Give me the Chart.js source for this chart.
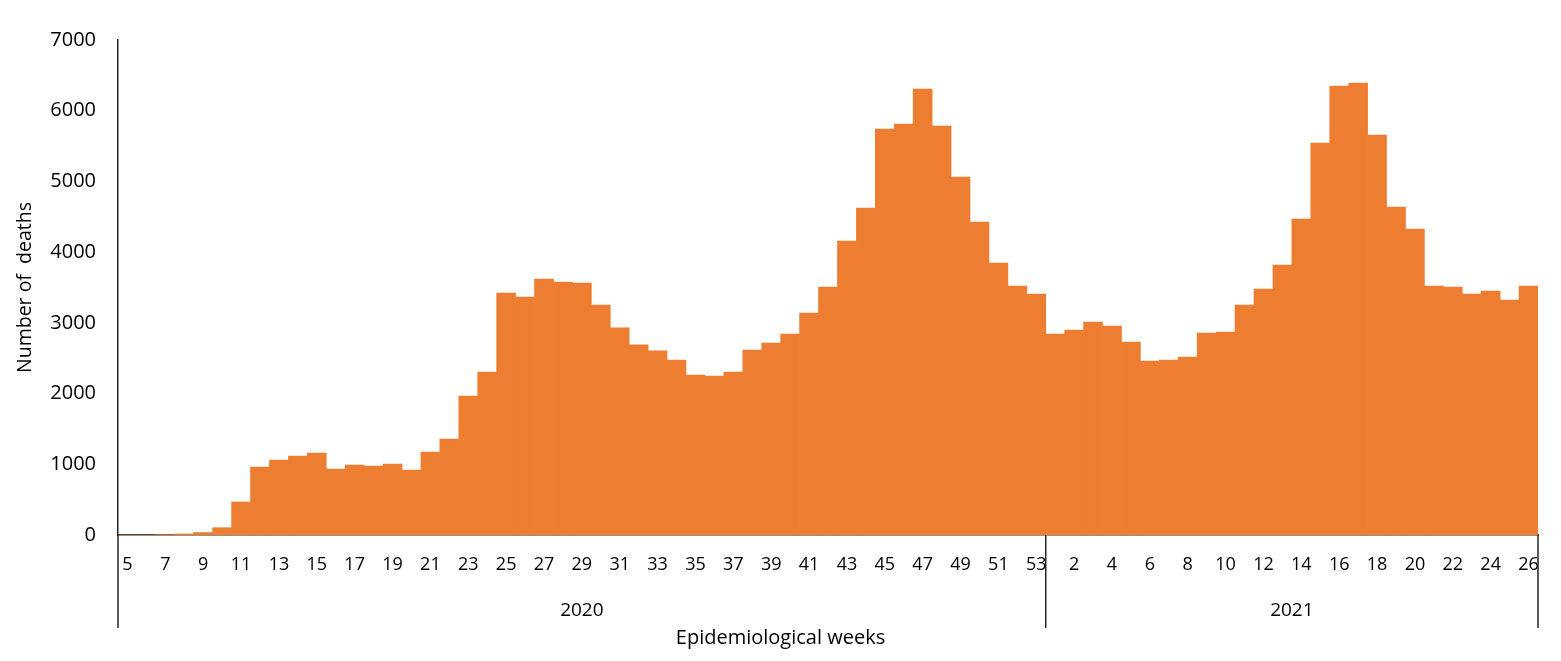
<!DOCTYPE html>
<html>
<head>
<meta charset="utf-8">
<script src="https://cdn.jsdelivr.net/npm/chart.js@4"></script>
<style>
  body { margin: 0; background: #fff; }
  canvas { display: block; }
</style>
</head>
<body>
<canvas id="deathsChart" width="1561" height="661"></canvas>
<script>
// weeks shown on the axis (2020: 5..53, 2021: 1..26)
const weeks2020 = [5, 6, 7, 8, 9, 10, 11, 12, 13, 14, 15, 16, 17, 18, 19, 20, 21, 22, 23, 24,
  25, 26, 27, 28, 29, 30, 31, 32, 33, 34, 35, 36, 37, 38, 39, 40, 41, 42, 43, 44,
  45, 46, 47, 48, 49, 50, 51, 52, 53];
const weeks2021 = [1, 2, 3, 4, 5, 6, 7, 8, 9, 10, 11, 12, 13, 14, 15, 16, 17, 18, 19, 20,
  21, 22, 23, 24, 25, 26];

// deaths per week
const deaths2020 = [0, 0, 5, 15, 35, 103, 467, 962, 1061, 1117, 1160, 933, 990, 976, 1004, 919,
  1174, 1358, 1966, 2305, 3422, 3366, 3620, 3578, 3564, 3253, 2928, 2688, 2603, 2475,
  2263, 2249, 2305, 2616, 2715, 2843, 3140, 3507, 4158, 4624, 5741, 5812, 6307, 5784,
  5063, 4426, 3846, 3521, 3408];
const deaths2021 = [2842, 2899, 3012, 2956, 2729, 2461, 2475, 2517, 2857, 2871, 3253, 3479,
  3818, 4469, 5543, 6349, 6392, 5657, 4638, 4327, 3521, 3507, 3408, 3450, 3323, 3521];

const years = ['2020', '2021'];
const yTicks = [0, 1000, 2000, 3000, 4000, 5000, 6000, 7000];

const labels = weeks2020.concat(weeks2021);
const values = deaths2020.concat(deaths2021);
const axisColor = '#262626';

// draws the year row under the week labels and the x title
const yearGroups = {
  id: 'yearGroups',
  afterDraw(chart) {
    const ctx = chart.ctx;
    const x = chart.scales.x;
    const top = x.top;
    const bottom = 628;
    const split = (x.getPixelForValue(weeks2020.length - 1) + x.getPixelForValue(weeks2020.length)) / 2;
    const edges = [x.left, split, x.right];

    ctx.save();
    ctx.strokeStyle = axisColor;
    ctx.lineWidth = 1.5;
    edges.forEach(px => {
      ctx.beginPath();
      ctx.moveTo(px, top);
      ctx.lineTo(px, bottom);
      ctx.stroke();
    });
    ctx.fillStyle = '#000';
    ctx.font = '19px "Open Sans"';
    ctx.textAlign = 'center';
    ctx.textBaseline = 'middle';
    ctx.fillText(years[0], (edges[0] + edges[1]) / 2, 611);
    ctx.fillText(years[1], (edges[1] + edges[2]) / 2, 611);

    // excel centres this one on the whole picture, not the plot
    ctx.font = '20px "Open Sans"';
    ctx.fillText('Epidemiological weeks', chart.width / 2, 638);
    ctx.restore();
  }
};

new Chart(document.getElementById('deathsChart'), {
  type: 'bar',
  data: {
    labels: labels,
    datasets: [{
      label: 'Number of deaths',
      data: values,
      backgroundColor: '#ED7D31',
      borderWidth: 0,
      categoryPercentage: 1.0,
      barPercentage: 1.0
    }]
  },
  options: {
    responsive: false,
    animation: false,
    layout: { padding: { top: 40, right: 23, left: 0, bottom: 0 } },
    plugins: {
      legend: { display: false },
      tooltip: { enabled: false }
    },
    scales: {
      x: {
        grid: { display: false, drawTicks: false },
        border: { display: true, color: axisColor, width: 1.5 },
        ticks: {
          autoSkip: false,
          maxRotation: 0,
          padding: 19,
          color: '#000',
          font: { family: 'Open Sans', size: 18 },
          callback: (val, i) => (i % 2 === 0 ? labels[i] : '')
        },
        afterFit: (scale) => { scale.height = 126; }
      },
      y: {
        min: 0,
        max: 7000,
        grid: { display: false, drawTicks: false },
        border: { display: true, color: axisColor, width: 1.5 },
        afterBuildTicks: (scale) => { scale.ticks = yTicks.map(v => ({ value: v })); },
        ticks: {
          padding: 22,
          color: '#000',
          font: { family: 'Open Sans', size: 20 },
          callback: (v) => String(v)
        },
        title: {
          display: true,
          text: 'Number of  deaths',
          color: '#000',
          font: { family: 'Open Sans', size: 19.5 },
          padding: { top: 14, bottom: 0 }
        },
        afterFit: (scale) => { scale.width = 118; }
      }
    }
  },
  plugins: [yearGroups]
});
</script>
</body>
</html>
